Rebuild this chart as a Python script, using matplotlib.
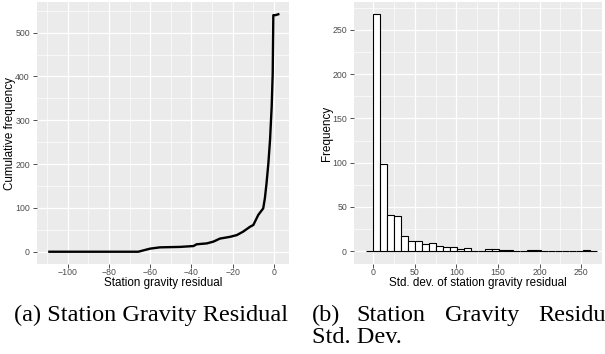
import numpy as np
import matplotlib
matplotlib.use("Agg")
import matplotlib.pyplot as plt
from matplotlib.ticker import MultipleLocator

# panel (a): cumulative frequency of station gravity residual
residual = [-108.9, -65.8, -60.1, -55.3, -45.6, -39.0, -37.5, -32.6, -29.4, -26.2,
            -21.3, -18.0, -14.9, -11.6, -10.0, -7.6, -5.2, -4.4, -3.6, -2.7,
            -1.9, -1.1, -0.6, -0.3, 0.8, 2.1]
cum_freq = [0, 0, 7, 10, 11, 13, 17, 19, 23, 30,
            34, 38, 46, 57, 61, 84, 99, 122, 156, 202,
            255, 331, 407, 540, 540, 542]

# panel (b): histogram of std. dev. of station gravity residual
bin_start = -8.4
bin_width = 8.4
counts = [0, 268, 99, 41, 40, 17, 12, 12, 8, 9, 6, 5, 5, 2, 4, 0, 0,
          3, 2, 1, 1, 0, 0, 1, 1, 0, 0, 0, 0, 0, 0, 1, 0]

plt.rcParams["font.family"] = "sans-serif"
plt.rcParams["font.sans-serif"] = ["Liberation Sans", "DejaVu Sans"]
plt.rcParams["axes.unicode_minus"] = True

PANEL_BG = "#EBEBEB"
TICK_TEXT = "#4D4D4D"
TICK_LINE = "#333333"

W, H = 605, 354


def gg_style(ax, xmajor, ymajor):
    """ggplot2 theme_gray look"""
    ax.set_facecolor(PANEL_BG)
    for s in ax.spines.values():
        s.set_visible(False)
    ax.xaxis.set_major_locator(MultipleLocator(xmajor))
    ax.yaxis.set_major_locator(MultipleLocator(ymajor))
    ax.xaxis.set_minor_locator(MultipleLocator(xmajor / 2))
    ax.yaxis.set_minor_locator(MultipleLocator(ymajor / 2))
    ax.grid(True, which="major", color="white", linewidth=0.9)
    ax.grid(True, which="minor", color="white", linewidth=0.45)
    ax.set_axisbelow(True)
    ax.tick_params(which="minor", length=0)
    ax.tick_params(which="major", length=2.6, width=0.6, color=TICK_LINE,
                   labelcolor=TICK_TEXT, labelsize=6.3)
    ax.tick_params(axis="x", pad=0.3)
    ax.tick_params(axis="y", pad=2.5)


fig = plt.figure(figsize=(W / 100, H / 100), dpi=100)

# (a) cumulative frequency line
ax1 = fig.add_axes([37 / W, 1 - 264 / H, (289 - 37) / W, (264 - 2) / H])
ax1.plot(residual, cum_freq, color="black", linewidth=1.7, solid_joinstyle="round")
ax1.set_xlim(-114.9, 7.3)
ax1.set_ylim(-28, 570)
gg_style(ax1, 20, 100)
ax1.set_xlabel("Station gravity residual", fontsize=8.4)
ax1.set_ylabel("Cumulative frequency", fontsize=8.4)
ax1.xaxis.set_label_coords(0.5, -0.048)
ax1.yaxis.set_label_coords(-0.085, 0.5)

# (b) histogram
edges = bin_start + bin_width * np.arange(len(counts) + 1)
ax2 = fig.add_axes([354 / W, 1 - 264 / H, (602 - 354) / W, (264 - 2) / H])
ax2.bar(edges[:-1], counts, width=bin_width, align="edge",
        facecolor="white", edgecolor="black", linewidth=0.8)
ax2.set_xlim(-23.2, 275.2)
ax2.set_ylim(-14.5, 281.5)
gg_style(ax2, 50, 50)
ax2.set_xlabel("Std. dev. of station gravity residual", fontsize=8.4)
ax2.set_ylabel("Frequency", fontsize=8.4)
ax2.xaxis.set_label_coords(0.5, -0.048)
ax2.yaxis.set_label_coords(-0.085, 0.5)

# sub-figure captions (LaTeX style, justified, right one runs to the page edge)
cap = dict(family="Liberation Serif", fontsize=17.5, color="black",
           va="baseline", ha="left")
fig.text(14 / W, 1 - 321 / H, "(a) Station Gravity Residual", **cap)
fig.text(311.7 / W, 1 - 321 / H, "(b)", **cap)
fig.text(356.7 / W, 1 - 321 / H, "Station", **cap)
fig.text(445 / W, 1 - 321 / H, "Gravity", **cap)
fig.text(538.3 / W, 1 - 321 / H, "Residu", **cap)
fig.text(311.7 / W, 1 - 343 / H, "Std. Dev.", **cap)

fig.savefig("out.png", dpi=100)
